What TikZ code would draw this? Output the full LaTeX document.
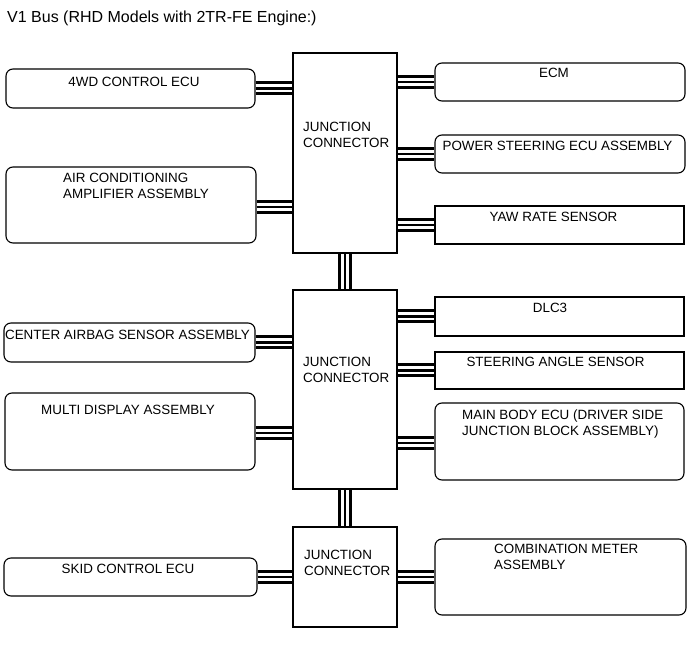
\documentclass[tikz,border=0pt]{standalone}
\usepackage{fontspec}
\setmainfont{Liberation Sans}
\usetikzlibrary{backgrounds}
\begin{document}
\begin{tikzpicture}[x=1pt,y=-1pt,
  rbox/.style={draw, line width=1.1pt, rounded corners=7pt, inner sep=0pt},
  sbox/.style={draw, line width=1.1pt, inner sep=0pt},
  txt/.style={anchor=base, inner sep=0pt, font=\fontsize{13.4}{16}\selectfont},
  ltxt/.style={anchor=base west, inner sep=0pt, font=\fontsize{13.4}{16}\selectfont},
  bus/.style={line width=2.2pt, preaction={draw, white, line width=8pt, preaction={draw, black, line width=14pt}}}]
\useasboundingbox (0,0) rectangle (691,660);
% title
\node[anchor=base west, inner sep=0pt, font=\fontsize{16}{19}\selectfont] (title) at (7,22.7) {V1 Bus (RHD Models with 2TR-FE Engine:)};
% junction connectors
\node[sbox, minimum width=104pt, minimum height=200pt] (jc1) at (345,153) {};
\node[sbox, minimum width=104pt, minimum height=199pt] (jc2) at (345,389.5) {};
\node[sbox, minimum width=104pt, minimum height=100pt] (jc3) at (345,577) {};
\node[ltxt] (jc1a) at (303,131.8) {JUNCTION};
\node[ltxt] (jc1b) at (303,147.8) {CONNECTOR};
\node[ltxt] (jc2a) at (303,366.8) {JUNCTION};
\node[ltxt] (jc2b) at (303,382.3) {CONNECTOR};
\node[ltxt] (jc3a) at (304,559.8) {JUNCTION};
\node[ltxt] (jc3b) at (304,575.3) {CONNECTOR};
% left boxes
\node[rbox, minimum width=249pt, minimum height=39pt] (wd) at (130.5,88.5) {};
\node[txt] (wdt) at (134,86.8) {4WD CONTROL ECU};
\node[rbox, minimum width=250pt, minimum height=76pt] (air) at (131,205) {};
\node[ltxt] (aira) at (63,182.8) {AIR CONDITIONING};
\node[ltxt] (airb) at (63,198.8) {AMPLIFIER ASSEMBLY};
\node[rbox, minimum width=251pt, minimum height=39pt] (cab) at (129.5,342.5) {};
\node[txt] (cabt) at (127.5,339.8) {CENTER AIRBAG SENSOR ASSEMBLY};
\node[rbox, minimum width=250pt, minimum height=77pt] (mda) at (130,431.5) {};
\node[txt] (mdat) at (128,414.8) {MULTI DISPLAY ASSEMBLY};
\node[rbox, minimum width=253pt, minimum height=38pt] (skid) at (130.5,577) {};
\node[txt] (skidt) at (128,573.8) {SKID CONTROL ECU};
% right boxes
\node[rbox, minimum width=250pt, minimum height=38pt] (ecm) at (560,82) {};
\node[txt] (ecmt) at (554,77.8) {ECM};
\node[rbox, minimum width=250pt, minimum height=38pt] (ps) at (560,154) {};
\node[txt] (pst) at (557.5,150.8) {POWER STEERING ECU ASSEMBLY};
\node[sbox, minimum width=249pt, minimum height=38pt] (yaw) at (559.5,225) {};
\node[txt] (yawt) at (553.5,221.8) {YAW RATE SENSOR};
\node[sbox, minimum width=249pt, minimum height=39pt] (dlc) at (559.5,316.5) {};
\node[txt] (dlct) at (550,312.8) {DLC3};
\node[sbox, minimum width=249pt, minimum height=37pt] (sas) at (559.5,370.5) {};
\node[txt] (sast) at (555.5,366.8) {STEERING ANGLE SENSOR};
\node[rbox, minimum width=249pt, minimum height=77pt] (mbe) at (559.5,441.5) {};
\node[ltxt] (mbea) at (462,419.8) {MAIN BODY ECU (DRIVER SIDE};
\node[ltxt] (mbeb) at (462,435.8) {JUNCTION BLOCK ASSEMBLY)};
\node[rbox, minimum width=251pt, minimum height=76pt] (cma) at (560.5,577) {};
\node[ltxt] (cmaa) at (494,553.8) {COMBINATION METER};
\node[ltxt] (cmab) at (494,569.8) {ASSEMBLY};
% buses
\begin{scope}[on background layer]
\draw[bus] (wd.east) -- (wd.east -| jc1.west);
\draw[bus] (air.east) ++(0,2) coordinate (airc) -- (airc -| jc1.west);
\draw[bus] (jc1.east |- ecm.west) -- (ecm.west);
\draw[bus] (jc1.east |- ps.west) -- (ps.west);
\draw[bus] (jc1.east |- yaw.west) -- (yaw.west);
\draw[bus] (jc1.south) -- (jc2.north);
\draw[bus] (cab.east) -- (cab.east -| jc2.west);
\draw[bus] (mda.east) ++(0,1.5) coordinate (mdac) -- (mdac -| jc2.west);
\draw[bus] (jc2.east |- dlc.west) -- (dlc.west);
\draw[bus] (jc2.east |- sas.west) -- (sas.west);
\draw[bus] (jc2.east |- mbe.west) ++(0,1.5) coordinate (mbec) -- (mbec -| mbe.west);
\draw[bus] (jc2.south) -- (jc3.north);
\draw[bus] (skid.east) -- (skid.east -| jc3.west);
\draw[bus] (jc3.east |- cma.west) -- (cma.west);
\end{scope}
\end{tikzpicture}
\end{document}
